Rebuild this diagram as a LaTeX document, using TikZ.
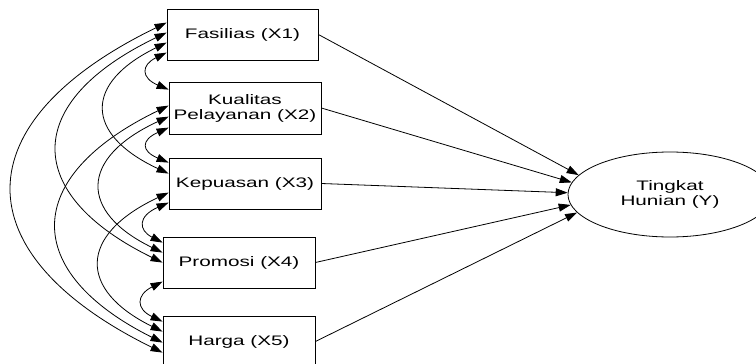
\documentclass[tikz,border=0pt]{standalone}
\usepackage{fontspec}
\setmainfont[FakeStretch=1.5]{Liberation Sans}
\usetikzlibrary{arrows.meta,calc,shapes.geometric}
\begin{document}
\begin{tikzpicture}[x=1pt,y=-1pt,line width=0.8pt,
  txt/.style={font=\fontsize{13.8}{15}\selectfont, align=center},
  box/.style={draw, rectangle, inner sep=0pt, txt, minimum height=51pt, minimum width=152pt},
  latent/.style={draw, ellipse, inner sep=0pt, txt, minimum width=204pt, minimum height=85pt},
  tip/.tip={Triangle[length=12pt,width=8pt]},
  cov/.style={tip-tip},
  reg/.style={-tip}]
\useasboundingbox (0,0) rectangle (756,364);
\clip (0,0) rectangle (756,364);

\node[box, minimum width=151pt] (X1) at (242.5,34.5) {Fasilias (X1)};
\node[box, minimum height=52pt] (X2) at (245,108) {Kualitas\\Pelayanan (X2)};
\node[box] (X3) at (245,183.5) {Kepuasan (X3)};
\node[box] (X4) at (239,262.5) {Promosi (X4)};
\node[box] (X5) at (239,341.5) {Harga (X5)};
\node[latent] (Y) at (670,194.5) {Tingkat\\Hunian (Y)};

% ports on the left edges
\coordinate (X1a) at ($(X1.north west)+(0,14)$);
\coordinate (X1b) at ($(X1.north west)+(0,24)$);
\coordinate (X1c) at ($(X1.north west)+(0,34)$);
\coordinate (X1d) at ($(X1.north west)+(0,44)$);
\coordinate (X2a) at ($(X2.north west)+(0,8)$);
\coordinate (X2b) at ($(X2.north west)+(0,24)$);
\coordinate (X2c) at ($(X2.north west)+(0,35)$);
\coordinate (X2d) at ($(X2.north west)+(0,46)$);
\coordinate (X3a) at ($(X3.north west)+(0,5)$);
\coordinate (X3b) at ($(X3.north west)+(0,16)$);
\coordinate (X3c) at ($(X3.north west)+(0,35)$);
\coordinate (X3d) at ($(X3.north west)+(0,45)$);
\coordinate (X4a) at ($(X4.north west)+(0,6)$);
\coordinate (X4b) at ($(X4.north west)+(0,16)$);
\coordinate (X4c) at ($(X4.north west)+(0,26)$);
\coordinate (X4d) at ($(X4.north west)+(0,45)$);
\coordinate (X5a) at ($(X5.north west)+(0,6)$);
\coordinate (X5b) at ($(X5.north west)+(0,16)$);
\coordinate (X5c) at ($(X5.north west)+(0,27)$);
\coordinate (X5d) at ($(X5.north west)+(0,37)$);

% covariances
\draw[cov] (X1d) .. controls (141,65) and (141,78) .. (X2a);
\draw[cov] (X2d) .. controls (141,140) and (141,151) .. (X3a);
\draw[cov] (X3d) .. controls (138,216) and (138,230) .. (X4a);
\draw[cov] (X4d) .. controls (136,295) and (136,309) .. (X5a);
\draw[cov] (X1c) .. controls (84,83) and (84,134) .. (X3b);
\draw[cov] (X1b) .. controls (22,102) and (22,194) .. (X4c);
\draw[cov] (X1a) .. controls (-38,122) and (-38,254) .. (X5d);
\draw[cov] (X2b) .. controls (21,177) and (21,272) .. (X5c);
\draw[cov] (X2c) .. controls (79,158) and (79,212) .. (X4b);
\draw[cov] (X3c) .. controls (78,235) and (78,290) .. (X5b);

% regressions
\draw[reg] (X1.east) -- (Y.168.6);
\draw[reg] (X2.east) -- (Y.173.4);
\draw[reg] (X3.east) -- (Y.179.2);
\draw[reg] (X4.east) -- (Y.186);
\draw[reg] (X5.east) -- (Y.191.3);
\end{tikzpicture}
\end{document}
